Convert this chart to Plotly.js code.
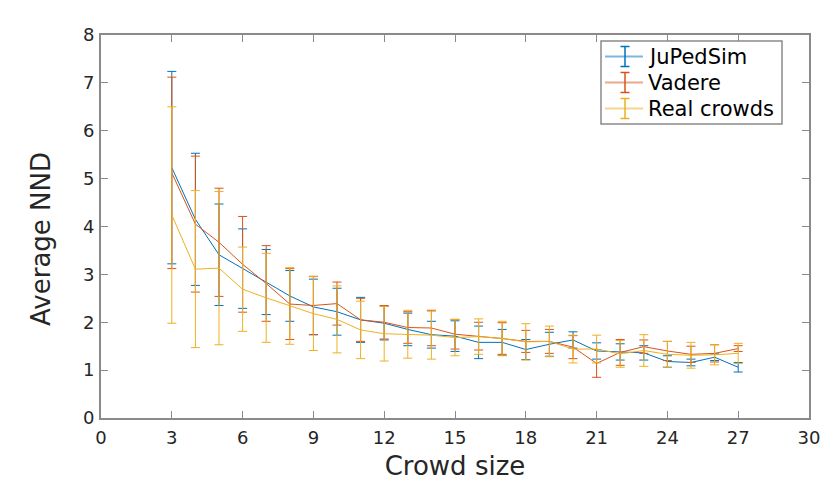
<!DOCTYPE html>
<html>
<head>
<meta charset="utf-8">
<script src="https://cdn.plot.ly/plotly-3.0.1.min.js"></script>
<style>
  html, body { margin: 0; padding: 0; background: #fff; }
  #myDiv { width: 828px; height: 483px; }
</style>
</head>
<body>
<div id="myDiv"></div>
<script>
// crowd sizes on the x axis
var crowdSize = [3, 4, 5, 6, 7, 8, 9, 10, 11, 12, 13, 14, 15, 16, 17, 18, 19, 20, 21, 22, 23, 24, 25, 26, 27];

// average NND and error
var jupedsimMean = [5.23, 4.15, 3.41, 3.12, 2.84, 2.55, 2.32, 2.22, 2.05, 1.98, 1.85, 1.74, 1.71, 1.58, 1.58, 1.43, 1.54, 1.63, 1.40, 1.38, 1.36, 1.18, 1.16, 1.27, 1.06];
var jupedsimErr  = [2.01, 1.38, 1.06, 0.83, 0.68, 0.53, 0.58, 0.49, 0.47, 0.35, 0.34, 0.28, 0.32, 0.34, 0.27, 0.21, 0.25, 0.17, 0.17, 0.17, 0.15, 0.12, 0.07, 0.07, 0.10];

var vadereMean = [5.12, 4.05, 3.67, 3.21, 2.81, 2.38, 2.35, 2.39, 2.05, 2.00, 1.89, 1.88, 1.75, 1.71, 1.66, 1.60, 1.60, 1.48, 1.14, 1.37, 1.49, 1.40, 1.33, 1.35, 1.45];
var vadereErr  = [2.00, 1.42, 1.13, 1.00, 0.79, 0.74, 0.61, 0.45, 0.45, 0.35, 0.33, 0.37, 0.31, 0.29, 0.33, 0.23, 0.25, 0.24, 0.29, 0.27, 0.14, 0.20, 0.17, 0.18, 0.06];

var realMean = [4.24, 3.11, 3.13, 2.69, 2.51, 2.34, 2.18, 2.06, 1.84, 1.76, 1.75, 1.73, 1.68, 1.70, 1.66, 1.59, 1.60, 1.44, 1.44, 1.34, 1.41, 1.33, 1.31, 1.32, 1.35];
var realErr  = [2.26, 1.64, 1.60, 0.88, 0.93, 0.80, 0.77, 0.70, 0.60, 0.57, 0.50, 0.50, 0.38, 0.37, 0.36, 0.38, 0.32, 0.29, 0.29, 0.28, 0.33, 0.27, 0.27, 0.21, 0.21];

var seriesNames = ['JuPedSim', 'Vadere', 'Real crowds'];
var seriesColors = ['#0072BD', '#D95319', '#EDB120'];

var xTicks = [0, 3, 6, 9, 12, 15, 18, 21, 24, 27, 30];
var yTicks = [0, 1, 2, 3, 4, 5, 6, 7, 8];

function errTrace(name, y, err, color) {
  return {
    x: crowdSize,
    y: y,
    type: 'scatter',
    mode: 'lines',
    name: name,
    line: { color: color, width: 1 },
    error_y: {
      type: 'data',
      array: err,
      visible: true,
      color: color,
      thickness: 1,
      width: 4.5
    }
  };
}

var jupedsim = errTrace(seriesNames[0], jupedsimMean, jupedsimErr, seriesColors[0]);
var vadere = errTrace(seriesNames[1], vadereMean, vadereErr, seriesColors[1]);
var real = errTrace(seriesNames[2], realMean, realErr, seriesColors[2]);

var axisColor = '#8a8a8a';
var textColor = '#262626';

// plot area in pixels, used to place the legend box (MATLAB style, with error bar icons)
var plotL = 101, plotR = 809, plotT = 35, plotB = 418;
function px(x) { return (x - plotL) / (plotR - plotL); }
function py(y) { return (plotB - y) / (plotB - plotT); }

var shapes = [];
var annotations = [{
  text: 'Average NND',
  xref: 'paper', yref: 'paper',
  x: -0.085, y: 0.467,
  xanchor: 'center', yanchor: 'middle',
  textangle: -90,
  showarrow: false,
  font: { size: 26, color: textColor }
}];

// legend box
shapes.push({
  type: 'rect', xref: 'paper', yref: 'paper',
  x0: px(601), x1: px(782), y0: py(41), y1: py(124),
  line: { color: axisColor, width: 1.5 }, fillcolor: '#fff', layer: 'above'
});

for (var i = 0; i < seriesNames.length; i++) {
  var rowY = 56.5 + i * 26;
  // line sample
  shapes.push({
    type: 'line', xref: 'paper', yref: 'paper',
    x0: px(605), x1: px(643), y0: py(rowY), y1: py(rowY),
    line: { color: seriesColors[i], width: 2 }, opacity: 0.5, layer: 'above'
  });
  // error bar sample
  shapes.push({
    type: 'line', xref: 'paper', yref: 'paper',
    x0: px(625), x1: px(625), y0: py(rowY - 10), y1: py(rowY + 10),
    line: { color: seriesColors[i], width: 1.5 }, layer: 'above'
  });
  shapes.push({
    type: 'line', xref: 'paper', yref: 'paper',
    x0: px(620.5), x1: px(629.5), y0: py(rowY - 10), y1: py(rowY - 10),
    line: { color: seriesColors[i], width: 1.5 }, layer: 'above'
  });
  shapes.push({
    type: 'line', xref: 'paper', yref: 'paper',
    x0: px(620.5), x1: px(629.5), y0: py(rowY + 10), y1: py(rowY + 10),
    line: { color: seriesColors[i], width: 1.5 }, layer: 'above'
  });
  annotations.push({
    text: seriesNames[i],
    xref: 'paper', yref: 'paper',
    x: px(646), y: py(rowY),
    xanchor: 'left', yanchor: 'middle',
    showarrow: false,
    font: { size: 21, color: '#000' }
  });
}

var layout = {
  width: 828,
  height: 483,
  margin: { l: plotL, r: 828 - plotR, t: plotT, b: 483 - plotB },
  paper_bgcolor: '#fff',
  plot_bgcolor: '#fff',
  font: { family: 'DejaVu Sans', color: textColor, size: 18 },
  showlegend: false,
  xaxis: {
    range: [0, 30],
    tickvals: xTicks,
    ticktext: xTicks.map(String),
    ticks: 'inside',
    ticklen: 7,
    tickcolor: axisColor,
    tickwidth: 1,
    showline: true,
    linecolor: axisColor,
    linewidth: 2,
    mirror: 'ticks',
    showgrid: false,
    zeroline: false,
    tickfont: { size: 18, color: textColor },
    ticklabelstandoff: 2,
    title: { text: 'Crowd size', font: { size: 26, color: textColor }, standoff: 10 }
  },
  yaxis: {
    range: [0, 8],
    tickvals: yTicks,
    ticktext: yTicks.map(String),
    ticks: 'inside',
    ticklen: 7,
    tickcolor: axisColor,
    tickwidth: 1,
    showline: true,
    linecolor: axisColor,
    linewidth: 2,
    mirror: 'ticks',
    showgrid: false,
    zeroline: false,
    tickfont: { size: 18, color: textColor },
    ticklabelstandoff: 1
  },
  shapes: shapes,
  annotations: annotations
};

Plotly.newPlot('myDiv', [jupedsim, vadere, real], layout, { staticPlot: true });
</script>
</body>
</html>
